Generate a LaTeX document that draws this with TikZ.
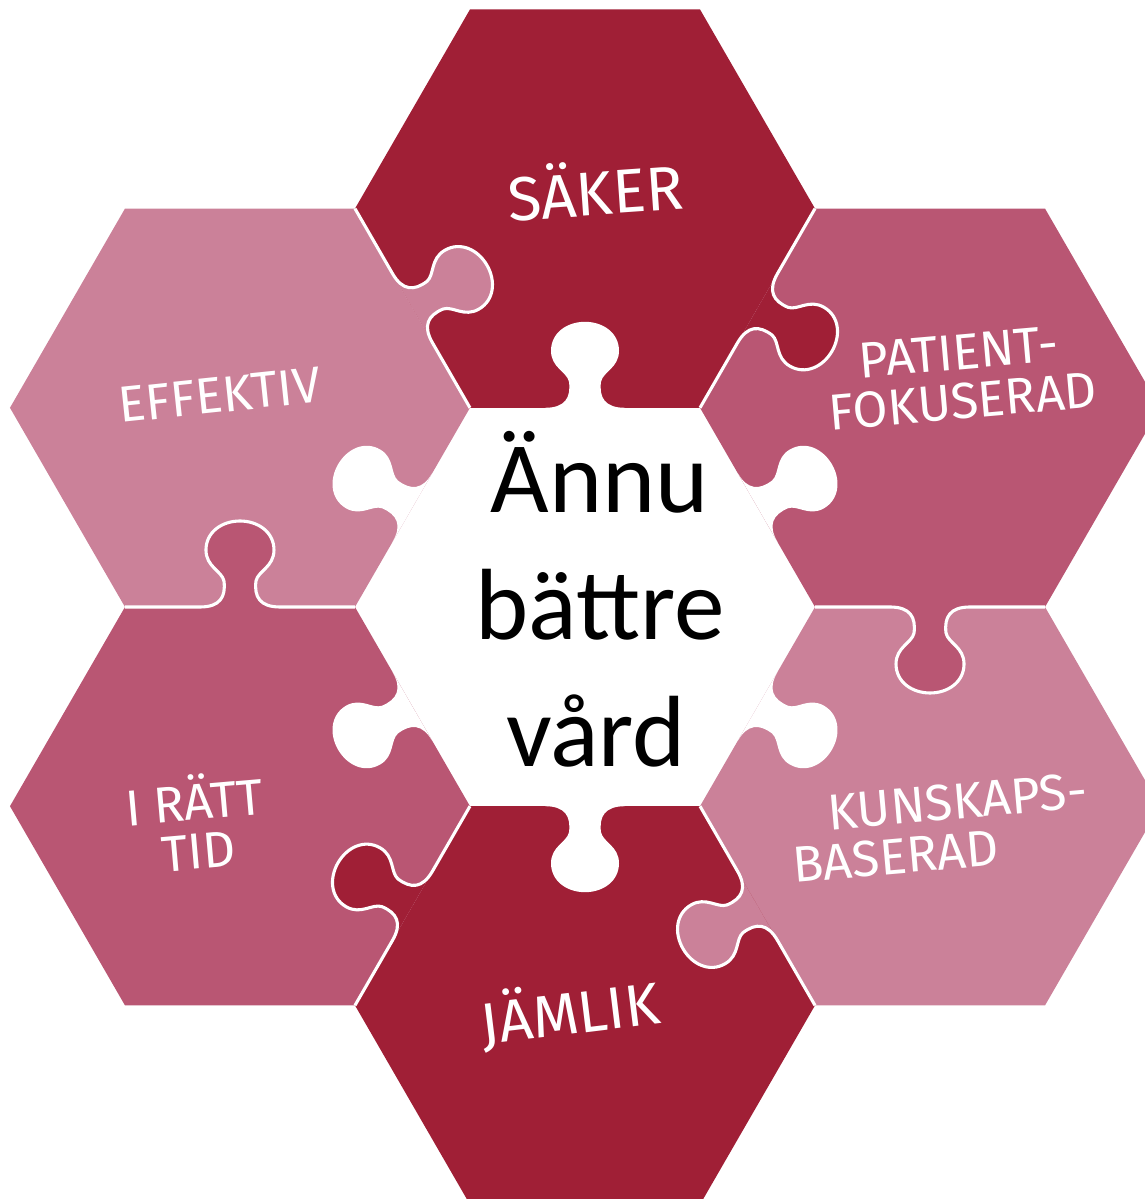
\documentclass[tikz,border=0pt]{standalone}
\usepackage{fontspec}
\usepackage{tikz}
\usetikzlibrary{calc}
\newfontfamily\handfont{Fira Sans}
\newfontfamily\bodyfont{Carlito}
\definecolor{deepred}{HTML}{A01F36}
\definecolor{midrose}{HTML}{B95673}
\definecolor{lightrose}{HTML}{CB8199}

\begin{document}
\begin{tikzpicture}[x=0.025cm,y=0.025cm,
 seam/.style={draw=white,line width=2.2pt,line join=round},
 knobshape/.style={insert path={.. controls (-20,0) and (-14,10) .. (-16,26)
   .. controls (-18,36) and (-34,40) .. (-34,57)
   .. controls (-34,75) and (-18,86) .. (0,86)
   .. controls (18,86) and (34,75) .. (34,57)
   .. controls (34,40) and (18,36) .. (16,26)
   .. controls (14,10) and (20,0) .. (40,0)}},
 lab/.style={text=white,inner sep=0pt,align=center,font=\fontsize{36}{35}\selectfont\handfont},
 core/.style={text=black,inner sep=0pt,font=\fontsize{72}{86}\selectfont\bodyfont}]
\useasboundingbox (0,0) rectangle (1145,1199);
\clip (0,0) rectangle (1145,1199);
\coordinate (ctr) at (585,592);
\foreach \p/\a in {saker/90,patient/30,kunskaps/-30,jamlik/-90,ratt/210,effektiv/150}
  \coordinate (\p) at ($(ctr)+(\a:398.4)$);
% hexagons
\foreach \p/\col in {saker/deepred,patient/midrose,kunskaps/lightrose,jamlik/deepred,ratt/midrose,effektiv/lightrose}
  \fill[\col] ($(\p)+(0:230)$) -- ++(120:230) -- ++(180:230) -- ++(240:230) -- ++(300:230) -- ++(0:230) -- cycle;
% knobs of the centre piece
\foreach \a in {90,30,-30,-90,210,150}
  \fill[white,shift={($(ctr)+(\a:199.2)$)},rotate=\a-90] (-40,0) [knobshape] -- cycle;
% knobs between the outer pieces
\foreach \o/\t/\col/\a in {saker/patient/deepred/-30,patient/kunskaps/midrose/-90,kunskaps/jamlik/lightrose/210,
  jamlik/ratt/deepred/150,ratt/effektiv/midrose/90,effektiv/saker/lightrose/30}{
  \begin{scope}[shift={($(\o)!0.5!(\t)$)},rotate=\a-90]
    \fill[\col] (-40,0) [knobshape] -- cycle;
    \draw[seam] (-115,0) -- (-40,0) [knobshape] -- (115,0);
  \end{scope}
}
% centre text
\node[core,anchor=base] (annu) at (600,686) {Ännu};
\node[core,anchor=base] (battre) at (600,559) {bättre};
\node[core,anchor=base] (vard) at (596,432) {vård};
% labels
\node[lab,rotate=4,font=\fontsize{44}{44}\selectfont\handfont] (saker-l) at (595,1011) {SÄKER};
\node[lab,rotate=6] (effektiv-l) at (220,804) {EFFEKTIV};
\node[lab,rotate=5] (patient-l) at (961,822) {PATIENT-\\FOKUSERAD};
\node[lab,rotate=5] (ratt-l) at (196,377) {I RÄTT\\TID};
\node[lab,rotate=5,align=left] (kunskaps-l) at (940,371) {\hspace*{28pt}KUNSKAPS-\\BASERAD};
\node[lab,rotate=7,font=\fontsize{42}{42}\selectfont\handfont] (jamlik-l) at (570,187) {JÄMLIK};
\end{tikzpicture}
\end{document}
